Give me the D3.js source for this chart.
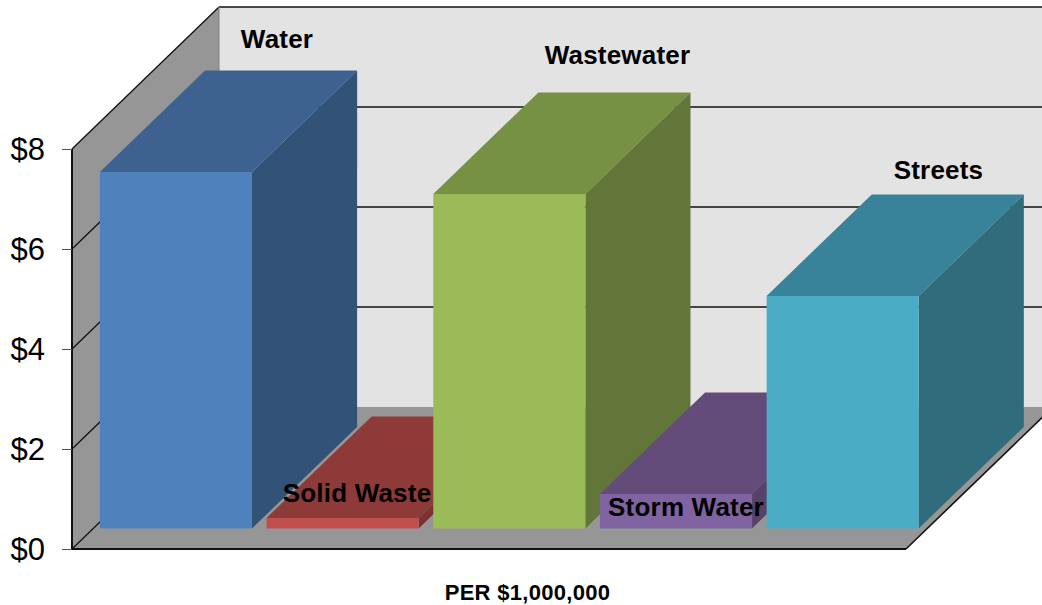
<!DOCTYPE html>
<html>
<head>
<meta charset="utf-8">
<script src="https://cdn.jsdelivr.net/npm/d3@7/dist/d3.min.js"></script>
<style>
  html, body { margin: 0; padding: 0; background: #fff; overflow: hidden; }
  svg { display: block; }
  text { font-family: "Liberation Sans", Arial, sans-serif; fill: #000; }
</style>
</head>
<body>
<svg id="chart" width="1042" height="605"></svg>
<script>
// Cost per $1,000,000 by utility
const categories = ["Water", "Solid Waste", "Wastewater", "Storm Water", "Streets"];
const costs = [7.13, 0.21, 6.69, 0.69, 4.65];
const frontColors = ["#4f81bd", "#c0504d", "#9bbb59", "#8064a2", "#4bacc6"];
const topColors = ["#3d6290", "#8e3a38", "#769044", "#634c79", "#388399"];
const sideColors = ["#325278", "#7a3331", "#63763a", "#574369", "#316c7c"];
const yTicks = [0, 2, 4, 6, 8];
const axisTitle = "PER $1,000,000";

const svg = d3.select("#chart");

// Oblique projection: value sets height, depth runs from the front plane to the back wall
const yScale = d3.scaleLinear().domain([0, 8]).range([549, 149]);
const depthX = d3.scaleLinear().domain([0, 1]).range([0, 147]);
const depthY = d3.scaleLinear().domain([0, 1]).range([0, -142]);
const xScale = d3.scaleBand().domain(categories).range([92.6, 926]).paddingInner(0.0875).paddingOuter(0.0437);

const barDepthFront = 0.145;
const barDepthBack = 0.86;
const line = d3.line();
// x is measured on the front plane of the bars, so shift back to depth 0 before projecting
const pt = (x, v, d) => [x - 21.3 + depthX(d), yScale(v) + depthY(d)];
const wallPt = (x, v, d) => [x + depthX(d), yScale(v) + depthY(d)];

const poly = (points, fill) => svg.append("path")
  .attr("d", line(points) + "Z")
  .attr("fill", fill);

const x0 = 72, x1 = 906;

// Walls and floor
poly([wallPt(x0, 0, 1), wallPt(x1, 0, 1), [1062, wallPt(x1, 0, 1)[1]], [1062, wallPt(x1, 8, 1)[1]], wallPt(x0, 8, 1)], "#e3e3e3");
poly([wallPt(x0, 0, 0), wallPt(x0, 8, 0), wallPt(x0, 8, 1), wallPt(x0, 0, 1)], "#969696");
poly([wallPt(x0, 0, 0), wallPt(x1, 0, 0), wallPt(x1, 0, 1), wallPt(x0, 0, 1)], "#969696");

// Gridlines along the side wall and the back wall
const grid = svg.append("g").attr("fill", "none").attr("stroke", "#111");
yTicks.forEach(t => {
  grid.append("path").attr("stroke-width", 1.3)
    .attr("d", line([wallPt(x0, t, 0), wallPt(x0, t, 1)]));
  if (t > 0) {
    grid.append("path").attr("stroke-width", 1.5)
      .attr("d", line([wallPt(x0, t, 1), [1060, wallPt(x0, t, 1)[1]]]));
  }
});
svg.append("path").attr("fill", "none").attr("stroke", "#808080").attr("stroke-width", 1)
  .attr("d", line([wallPt(x0, 0, 1), wallPt(x0, 8, 1)]));

// Axis frame
const frame = svg.append("g").attr("fill", "none").attr("stroke", "#111");
frame.append("path").attr("stroke-width", 2)
  .attr("d", line([wallPt(x0, 8, 0), wallPt(x0, 0, 0), wallPt(x1, 0, 0)]));
frame.append("path").attr("stroke-width", 1.6)
  .attr("d", line([wallPt(x1, 0, 0), wallPt(x1, 0, 1)]));

// Value axis
const yAxis = d3.axisLeft(yScale).tickValues(yTicks).tickFormat(d => "$" + d).tickSize(10).tickPadding(17);
const axisG = svg.append("g").attr("transform", `translate(${x0},0)`).call(yAxis);
axisG.select(".domain").remove();
axisG.selectAll(".tick line").attr("stroke", "#555").attr("stroke-width", 1);
axisG.selectAll(".tick text")
  .attr("font-size", 31).attr("dy", "0.35em")
  .style("font-family", '"Liberation Sans", Arial, sans-serif').attr("fill", "#000");

// Bars, left to right so the nearer faces cover what sits behind them
categories.forEach((c, i) => {
  const l = xScale(c), r = l + xScale.bandwidth(), v = costs[i];
  const a = barDepthFront, b = barDepthBack;
  poly([pt(l, v, a), pt(r, v, a), pt(r, v, b), pt(l, v, b)], topColors[i]);
  poly([pt(r, 0, a), pt(r, v, a), pt(r, v, b), pt(r, 0, b)], sideColors[i]);
  poly([pt(l, 0, a), pt(r, 0, a), pt(r, v, a), pt(l, v, a)], frontColors[i]);
});

// Category labels
const labelPositions = {
  "Water": [277, 48], "Solid Waste": [357, 502], "Wastewater": [617.5, 64],
  "Storm Water": [686, 516], "Streets": [938.5, 179]
};
categories.forEach(c => {
  svg.append("text").attr("x", labelPositions[c][0]).attr("y", labelPositions[c][1])
    .attr("text-anchor", "middle").attr("font-weight", "bold").attr("font-size", 26)
    .attr("letter-spacing", 0.2).text(c);
});

svg.append("text").attr("x", 527.5).attr("y", 600)
  .attr("text-anchor", "middle").attr("font-weight", "bold").attr("font-size", 22)
  .attr("letter-spacing", 0.3).text(axisTitle);
</script>
</body>
</html>
